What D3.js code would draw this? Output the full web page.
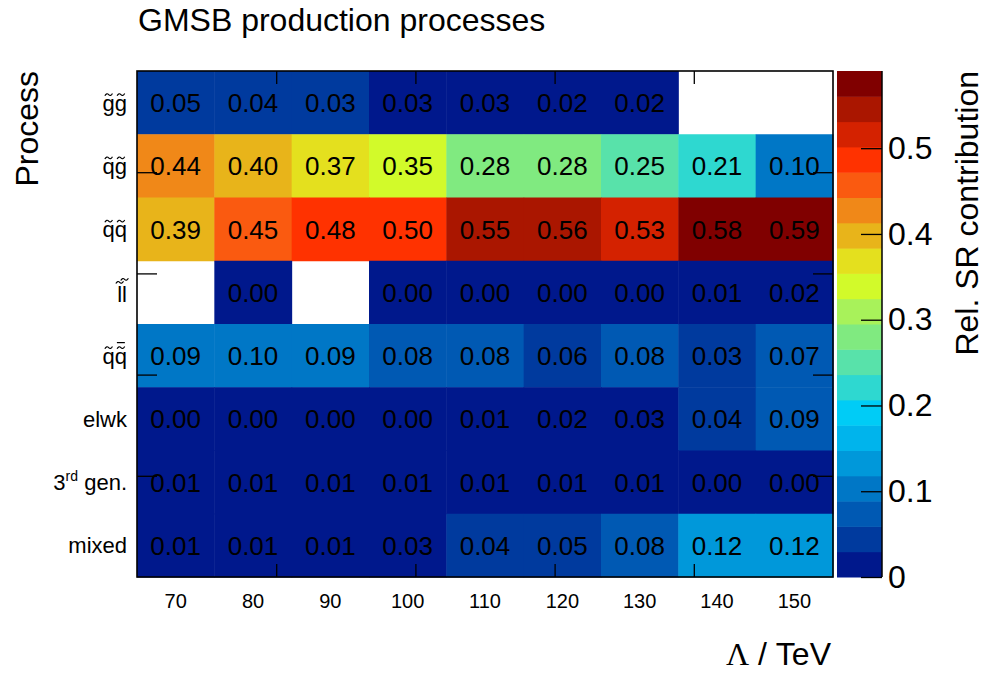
<!DOCTYPE html>
<html>
<head>
<meta charset="utf-8">
<script src="https://cdn.jsdelivr.net/npm/d3@7"></script>
<style>
  html, body { margin: 0; padding: 0; background: #fff; }
  svg { display: block; font-family: "Liberation Sans", Arial, Helvetica, sans-serif; }
</style>
</head>
<body>
<svg id="chart" width="985" height="673"></svg>
<script>
// Messenger scale Λ (TeV) bins along x
const lambdaBins = ["70", "80", "90", "100", "110", "120", "130", "140", "150"];

// Production process rows, top to bottom
const processKeys = ["gg", "qg", "qq", "ll", "qqbar", "elwk", "third", "mixed"];

// Relative signal-region contribution per process (null = no entry)
const valGG    = [0.05, 0.04, 0.03, 0.029, 0.029, 0.02, 0.02, null, null];
const valQG    = [0.44, 0.40, 0.37, 0.35, 0.28, 0.28, 0.25, 0.21, 0.10];
const valQQ    = [0.39, 0.45, 0.48, 0.50, 0.55, 0.56, 0.53, 0.58, 0.59];
const valLL    = [null, 0.00, null, 0.00, 0.00, 0.00, 0.00, 0.01, 0.02];
const valQQbar = [0.09, 0.10, 0.09, 0.08, 0.08, 0.058, 0.08, 0.031, 0.07];
const valElwk  = [0.00, 0.00, 0.00, 0.00, 0.01, 0.02, 0.028, 0.04, 0.088];
const valThird = [0.01, 0.01, 0.01, 0.01, 0.01, 0.01, 0.01, 0.00, 0.00];
const valMixed = [0.01, 0.01, 0.01, 0.027, 0.04, 0.05, 0.08, 0.12, 0.12];

const rowValues = [valGG, valQG, valQQ, valLL, valQQbar, valElwk, valThird, valMixed];

// z-axis range and colour bar ticks
const zMax = 0.59;
const zTicks = [0, 0.1, 0.2, 0.3, 0.4, 0.5];

// 20-step rainbow palette, lowest to highest
const palette = [
  "#00188c", "#003a9e", "#0059b3", "#0077c6", "#0098da",
  "#00b4ec", "#00ccf6", "#2ed8d0", "#58e2aa", "#80ea80",
  "#a8f25a", "#d2fa2a", "#e4e01e", "#e8b41a", "#f08818",
  "#fa5a10", "#ff3200", "#d42200", "#aa1600", "#800000"
];

const svg = d3.select("#chart");
const frame = { left: 137, right: 833, top: 71, bottom: 577 };
const bar = { left: 837, right: 882 };

const x = d3.scaleBand().domain(lambdaBins).range([frame.left, frame.right]).padding(0);
const y = d3.scaleBand().domain(processKeys).range([frame.top, frame.bottom]).padding(0);
const color = d3.scaleQuantize().domain([0, zMax]).range(palette);
const z = d3.scaleLinear().domain([0, zMax]).range([frame.bottom, frame.top]);

// flatten the table into cells
const cells = [];
processKeys.forEach((p, i) => {
  rowValues[i].forEach((v, j) => {
    if (v !== null) cells.push({ p, lam: lambdaBins[j], v });
  });
});

// heat map cells
svg.append("g").selectAll("rect").data(cells).join("rect")
  .attr("x", d => x(d.lam))
  .attr("y", d => y(d.p))
  .attr("width", x.bandwidth() + 0.5)
  .attr("height", y.bandwidth() + 0.5)
  .attr("fill", d => color(Math.min(d.v, zMax - 1e-9)));

// cell values
svg.append("g").selectAll("text").data(cells).join("text")
  .attr("x", d => x(d.lam) + x.bandwidth() / 2)
  .attr("y", d => y(d.p) + y.bandwidth() / 2 + 9.5)
  .attr("text-anchor", "middle")
  .attr("font-size", 26)
  .attr("fill", "#000")
  .text(d => d.v.toFixed(2));

// frame ticks at fifths of each axis
const fx = d3.scaleLinear().domain([0, 1]).range([frame.left, frame.right]);
const fy = d3.scaleLinear().domain([0, 1]).range([frame.top, frame.bottom]);
const fifths = [0.2, 0.4, 0.6, 0.8];
const tickStyle = g => { g.select(".domain").remove(); g.selectAll("line").attr("stroke", "#000").attr("stroke-width", 1.3); };
svg.append("g").attr("transform", `translate(0,${frame.bottom})`)
  .call(d3.axisBottom(fx).tickValues(fifths).tickSize(-13).tickFormat("")).call(tickStyle);
svg.append("g").attr("transform", `translate(0,${frame.top})`)
  .call(d3.axisTop(fx).tickValues(fifths).tickSize(-13).tickFormat("")).call(tickStyle);
svg.append("g").attr("transform", `translate(${frame.left},0)`)
  .call(d3.axisLeft(fy).tickValues(fifths).tickSize(-20).tickFormat("")).call(tickStyle);
svg.append("g").attr("transform", `translate(${frame.right},0)`)
  .call(d3.axisRight(fy).tickValues(fifths).tickSize(-20).tickFormat("")).call(tickStyle);

// frame border
svg.append("rect")
  .attr("x", frame.left).attr("y", frame.top)
  .attr("width", frame.right - frame.left).attr("height", frame.bottom - frame.top)
  .attr("fill", "none").attr("stroke", "#000").attr("stroke-width", 1.6);

// x bin labels
const xAxis = svg.append("g").attr("transform", `translate(0,${frame.bottom})`)
  .call(d3.axisBottom(x).tickSize(0).tickPadding(17));
xAxis.select(".domain").remove();
xAxis.selectAll("text").attr("font-size", 20).attr("font-family", null).attr("fill", "#000");

// y process labels, drawn by hand for the tilde / bar accents
const labelX = 127;
const fs = 22;
const adv = { g: 0.556, q: 0.556, l: 0.222 };
const rowLabels = {
  gg:    { chars: ["g", "g"], accents: [["tilde"], ["tilde"]] },
  qg:    { chars: ["q", "g"], accents: [["tilde"], ["tilde"]] },
  qq:    { chars: ["q", "q"], accents: [["tilde"], ["tilde"]] },
  ll:    { chars: ["l", "l"], accents: [["tilde"], ["tilde"]] },
  qqbar: { chars: ["q", "q"], accents: [["tilde"], ["tilde", "bar"]] }
};
const ylab = svg.append("g").attr("fill", "#000");
processKeys.forEach(p => {
  const cy = y(p) + y.bandwidth() / 2;
  if (rowLabels[p]) {
    const lab = rowLabels[p];
    const tall = lab.chars[0] === "l";
    const base = cy + (tall ? 10 : 8);
    ylab.append("text").attr("x", labelX).attr("y", base)
      .attr("text-anchor", "end").attr("font-size", fs).text(lab.chars.join(""));
    const widths = lab.chars.map(c => adv[c] * fs);
    const total = d3.sum(widths);
    let cx = labelX - total;
    lab.chars.forEach((c, k) => {
      const mid = cx + widths[k] / 2;
      const ty = base - (tall ? 20 : 16) - (tall && k === 1 ? 3 : 0);
      lab.accents[k].forEach(a => {
        if (a === "tilde") {
          ylab.append("path")
            .attr("d", `M${mid - 3.8},${ty + 1.2} Q${mid - 1.9},${ty - 2.2} ${mid},${ty} T${mid + 3.8},${ty - 1.2}`)
            .attr("fill", "none").attr("stroke", "#000").attr("stroke-width", 1.2);
        } else {
          ylab.append("line")
            .attr("x1", mid - 4).attr("x2", mid + 4)
            .attr("y1", ty - 5).attr("y2", ty - 5)
            .attr("stroke", "#000").attr("stroke-width", 1.2);
        }
      });
      cx += widths[k];
    });
  } else if (p === "third") {
    const t = ylab.append("text").attr("x", labelX).attr("y", cy + 8)
      .attr("text-anchor", "end").attr("font-size", fs);
    t.append("tspan").text("3");
    t.append("tspan").attr("font-size", 14).attr("dy", -9).text("rd");
    t.append("tspan").attr("dy", 9).text(" gen.");
  } else {
    ylab.append("text").attr("x", labelX).attr("y", cy + 8)
      .attr("text-anchor", "end").attr("font-size", fs)
      .text(p === "elwk" ? "elwk" : "mixed");
  }
});

// colour bar
svg.append("g").selectAll("rect").data(palette).join("rect")
  .attr("x", bar.left)
  .attr("y", (c, i) => z((i + 1) * zMax / palette.length))
  .attr("width", bar.right - bar.left)
  .attr("height", (c, i) => z(i * zMax / palette.length) - z((i + 1) * zMax / palette.length) + 0.5)
  .attr("fill", c => c);

const zAxis = svg.append("g").attr("transform", `translate(${bar.right},0)`)
  .call(d3.axisRight(z).tickValues(zTicks).tickSize(-21).tickPadding(27)
    .tickFormat(d => d === 0 ? "0" : d3.format(".1f")(d)));
zAxis.select(".domain").attr("stroke", "#000").attr("stroke-width", 1.5).attr("d", `M0,${frame.top}V${frame.bottom}`);
zAxis.selectAll("line").attr("stroke", "#000").attr("stroke-width", 1.3);
zAxis.selectAll("text").attr("font-size", 32).attr("font-family", null).attr("fill", "#000")
  .attr("x", 6).attr("text-anchor", "start");

// titles
svg.append("text").attr("x", 138).attr("y", 31).attr("font-size", 32).attr("fill", "#000")
  .text("GMSB production processes");

svg.append("text").attr("transform", `translate(38,${frame.top}) rotate(-90)`)
  .attr("text-anchor", "end").attr("font-size", 32).attr("fill", "#000").text("Process");

svg.append("text").attr("transform", `translate(978,${frame.top}) rotate(-90)`)
  .attr("text-anchor", "end").attr("font-size", 32).attr("fill", "#000").text("Rel. SR contribution");

const xt = svg.append("text").attr("x", 831).attr("y", 665).attr("text-anchor", "end")
  .attr("font-size", 32).attr("fill", "#000");
xt.append("tspan").attr("font-family", "'Liberation Serif', 'Times New Roman', serif").text("Λ");
xt.append("tspan").text(" / TeV");
</script>
</body>
</html>
